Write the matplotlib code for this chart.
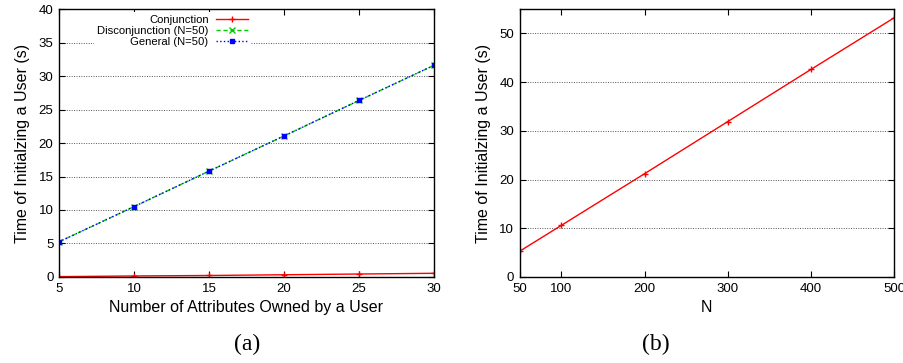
import numpy as np
import matplotlib.pyplot as plt

# (a) time vs number of attributes
attrs = [5, 10, 15, 20, 25, 30]
conj_time = [0.05, 0.15, 0.22, 0.33, 0.44, 0.55]
disconj_time = [5.25, 10.5, 15.8, 21.05, 26.35, 31.6]
general_time = [5.25, 10.5, 15.8, 21.05, 26.35, 31.6]

# (b) time vs N
n_vals = [50, 100, 200, 300, 400, 500]
n_time = [5.3, 10.6, 21.2, 31.9, 42.6, 53.2]

plt.rcParams['font.family'] = ['Liberation Sans', 'DejaVu Sans']

fig = plt.figure(figsize=(9.04, 3.63), dpi=100)
ax1 = fig.add_axes([0.0653, 0.237, 0.4147, 0.738])
ax2 = fig.add_axes([0.575, 0.237, 0.414, 0.738])


def style_axes(ax):
    ax.tick_params(direction='in', top=True, right=True, labelsize=9.5,
                   length=4, width=0.8, pad=4)
    for s in ax.spines.values():
        s.set_linewidth(1.0)
    ax.yaxis.grid(True, linestyle=(0, (1, 1.5)), color='#555555', linewidth=0.7)
    ax.set_axisbelow(True)


ax1.plot(attrs, conj_time, color='#ff0000', linestyle='-', linewidth=1.0,
         marker='+', markersize=5, label='Conjunction')
ax1.plot(attrs, disconj_time, color='#00cc00', linestyle='--', linewidth=1.0,
         marker='x', markersize=4, dashes=(3, 2), label='Disconjunction (N=50)')
ax1.plot(attrs, general_time, color='#0000ff', linestyle=':', linewidth=1.0,
         marker='s', markersize=3.5, label='General (N=50)')
ax1.set_xlim(5, 30)
ax1.set_ylim(0, 40)
ax1.set_xticks(attrs)
ax1.set_yticks(np.arange(0, 41, 5))
style_axes(ax1)
ax1.set_xlabel('Number of Attributes Owned by a User', fontsize=11.5, labelpad=4)
ax1.set_ylabel('Time of Initialzing a User (s)', fontsize=11.5, labelpad=6)
leg = ax1.legend(loc='upper right', bbox_to_anchor=(0.512, 0.99), markerfirst=False,
                 frameon=True, fancybox=False, edgecolor='white', framealpha=1,
                 fontsize=8.1, handlelength=2.85, handletextpad=0.62,
                 labelspacing=0.1, borderpad=0.3, borderaxespad=0)
leg.get_frame().set_linewidth(0)

ax2.plot(n_vals, n_time, color='#ff0000', linestyle='-', linewidth=1.0,
         marker='+', markersize=4)
ax2.set_xlim(50, 500)
ax2.set_ylim(0, 55)
ax2.set_xticks([50, 100, 200, 300, 400, 500])
ax2.set_yticks(np.arange(0, 51, 10))
style_axes(ax2)
ax2.set_xlabel('N', fontsize=11.5, labelpad=4)
ax2.set_ylabel('Time of Initialzing a User (s)', fontsize=11.5, labelpad=6)

fig.text(0.273, 0.035, '(a)', fontsize=17, family='Liberation Serif', ha='center')
fig.text(0.726, 0.035, '(b)', fontsize=17, family='Liberation Serif', ha='center')

fig.savefig('out.png', dpi=100)
